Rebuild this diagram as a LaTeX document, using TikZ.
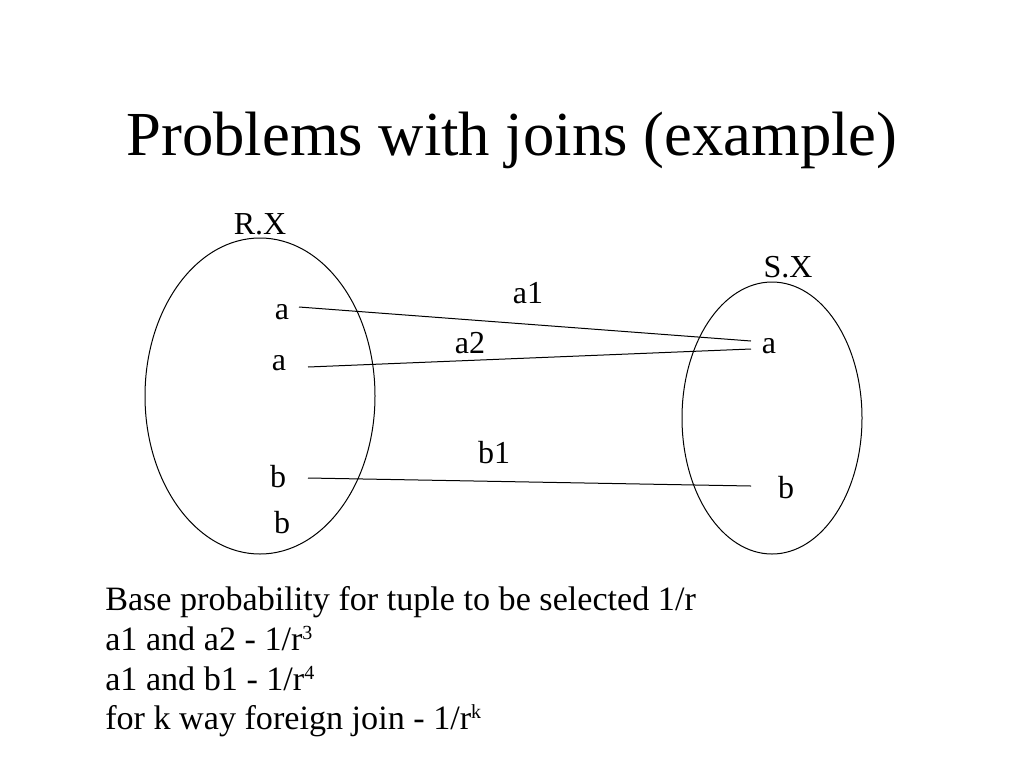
\documentclass[tikz,border=0pt]{standalone}
\usepackage{fontspec}
\setmainfont{Liberation Serif}
\usetikzlibrary{shapes.geometric}
\newcommand{\supx}[1]{\raisebox{0.3em}{\fontsize{15}{15}\selectfont #1}}
\begin{document}
\begin{tikzpicture}[x=0.75pt,y=-0.75pt,
  lbl/.style={anchor=base,inner sep=0pt,font=\fontsize{24}{28}\selectfont},
  body/.style={anchor=base west,inner sep=0pt,font=\fontsize{25.6}{30}\selectfont},
  set/.style={draw=black,line width=0.75pt,ellipse,inner sep=0pt},
  link/.style={draw=black,line width=0.75pt}]
\useasboundingbox (0,0) rectangle (1024,768);
\fill[white] (0,0) rectangle (1024,768);
% title
\node[anchor=base,inner sep=0pt,font=\fontsize{47}{54}\selectfont] (title) at (512,155) {Problems with joins (example)};
% sets
\node[set,minimum width=172.5pt,minimum height=237pt] (R) at (260,396) {};
\node[set,minimum width=135pt,minimum height=204pt] (S) at (772,418) {};
\node[lbl] (RX) at (260,234) {R.X};
\node[lbl] (SX) at (788,277) {S.X};
% elements
\node[lbl] (ra1) at (282,319) {a};
\node[lbl] (ra2) at (279,370) {a};
\node[lbl] (rb1) at (278,487) {b};
\node[lbl] (rb2) at (282,533) {b};
\node[lbl] (sa) at (769,353) {a};
\node[lbl] (sb) at (786,498) {b};
% connector ends
\coordinate (p1) at (299,307);
\coordinate (q1) at (751,341);
\coordinate (p2) at (308,367);
\coordinate (q2) at (751,349);
\coordinate (p3) at (308,478);
\coordinate (q3) at (751,486);
\draw[link] (p1) -- (q1);
\draw[link] (p2) -- (q2);
\draw[link] (p3) -- (q3);
\node[lbl] (la1) at (528,303) {a1};
\node[lbl] (la2) at (470,353) {a2};
\node[lbl] (lb1) at (494,463) {b1};
% body text
\node[body] (t1) at (105,610) {Base probability for tuple to be selected 1/r};
\node[body] (t2) at (105,650) {a1 and a2 - 1/r\supx{3}};
\node[body] (t3) at (105,690) {a1 and b1 - 1/r\supx{4}};
\node[body] (t4) at (105,729) {for k way foreign join - 1/r\supx{k}};
\end{tikzpicture}
\end{document}
